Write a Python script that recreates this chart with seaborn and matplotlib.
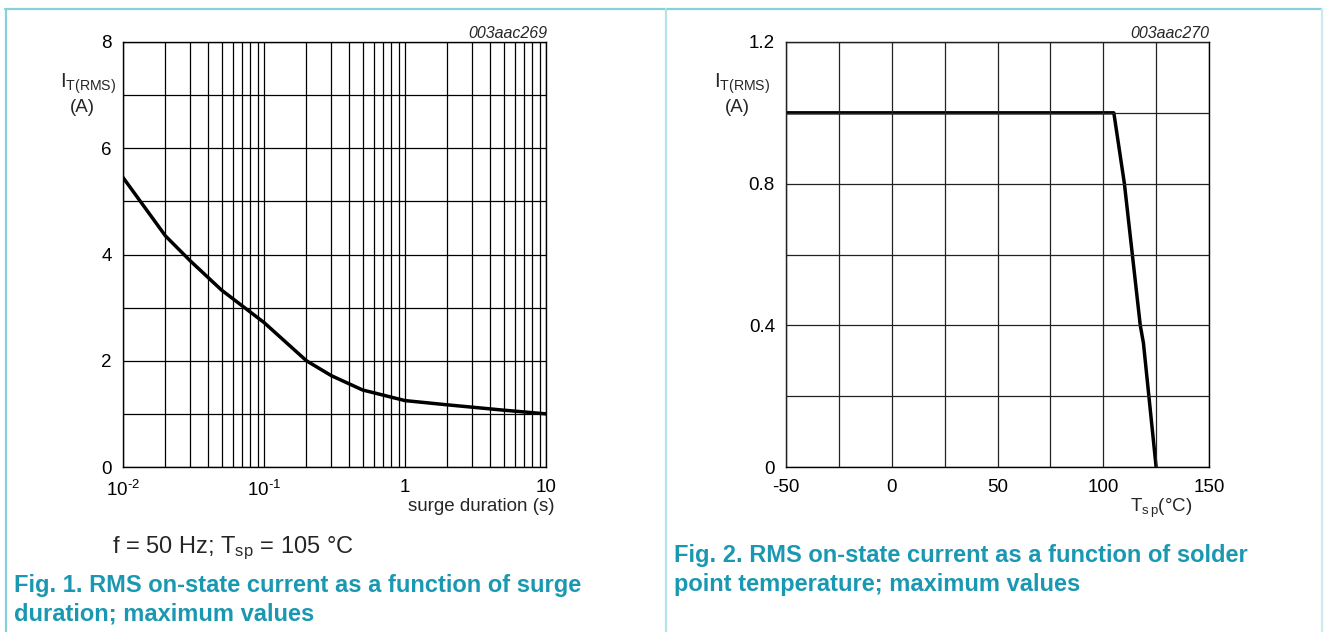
import numpy as np
import pandas as pd
import matplotlib.pyplot as plt
import seaborn as sns
from matplotlib.lines import Line2D
from matplotlib.ticker import LogLocator, NullFormatter, FixedLocator

# data
surge_s = [0.01, 0.02, 0.03, 0.05, 0.1, 0.2, 0.3, 0.5, 1, 2, 5, 10]
surge_it = [5.45, 4.35, 3.88, 3.33, 2.72, 2.0, 1.72, 1.45, 1.25, 1.17, 1.07, 1.0]

tsp_c = [-50, 105, 110, 117.5, 119, 125]
tsp_it = [1.0, 1.0, 0.8, 0.4, 0.35, 0.0]

left_xticks = [0.01, 0.1, 1, 10]
left_xlabels = [r'10$^{\mathregular{‐2}}$', r'10$^{\mathregular{‐1}}$', '1', '10']
left_yticks = [0, 2, 4, 6, 8]
right_xticks = [-50, 0, 50, 100, 150]
right_yticks = [0, 0.4, 0.8, 1.2]

sns.set_style('white')
plt.rcParams['font.family'] = ['Liberation Sans', 'DejaVu Sans']
plt.rcParams['mathtext.fontset'] = 'custom'
plt.rcParams['mathtext.rm'] = 'Liberation Sans'
plt.rcParams['mathtext.it'] = 'Liberation Sans:italic'
plt.rcParams['axes.unicode_minus'] = False

W, H = 1326, 632
fig = plt.figure(figsize=(W / 100, H / 100), dpi=100)
teal = '#1a98b2'
border = '#86d0dc'


def fx(px):
    return px / W


def fy(py):
    return 1 - py / H


# panel borders
fig.add_artist(Line2D([fx(5), fx(1322)], [fy(8.5), fy(8.5)], color=border, lw=1.6))
fig.add_artist(Line2D([fx(5.5), fx(5.5)], [fy(8.5), 0], color=border, lw=1.6))
fig.add_artist(Line2D([fx(665.5), fx(665.5)], [fy(8.5), 0], color='#b5e1e8', lw=1.6))
fig.add_artist(Line2D([fx(1322), fx(1322)], [fy(8.5), 0], color='#cfeaee', lw=1.6))

# ---- Fig. 1 ----
ax1 = fig.add_axes([fx(123), fy(467), fx(546 - 123), (467 - 42) / H])
df1 = pd.DataFrame({'t': surge_s, 'i': surge_it})
sns.lineplot(data=df1, x='t', y='i', ax=ax1, color='black', lw=2.5)
ax1.set_xscale('log')
ax1.set_xlim(0.01, 10)
ax1.set_ylim(0, 8)
ax1.set_xticks(left_xticks)
ax1.set_xticklabels(left_xlabels)
ax1.xaxis.set_minor_locator(LogLocator(base=10, subs=np.arange(2, 10)))
ax1.xaxis.set_minor_formatter(NullFormatter())
ax1.set_yticks(left_yticks)
ax1.yaxis.set_minor_locator(FixedLocator([1, 3, 5, 7]))
ax1.grid(which='both', color='black', lw=0.9)
ax1.set_xlabel('')
ax1.set_ylabel('')

# ---- Fig. 2 ----
ax2 = fig.add_axes([fx(786), fy(467), fx(1209 - 786), (467 - 42) / H])
df2 = pd.DataFrame({'t': tsp_c, 'i': tsp_it})
sns.lineplot(data=df2, x='t', y='i', ax=ax2, color='black', lw=2.5)
ax2.set_xlim(-50, 150)
ax2.set_ylim(0, 1.2)
ax2.set_xticks(right_xticks)
ax2.set_xticklabels([str(v) for v in right_xticks])
ax2.xaxis.set_minor_locator(FixedLocator([-25, 25, 75, 125]))
ax2.set_yticks(right_yticks)
ax2.set_yticklabels(['0', '0.4', '0.8', '1.2'])
ax2.yaxis.set_minor_locator(FixedLocator([0.2, 0.6, 1.0]))
ax2.grid(which='both', color='#222222', lw=0.9)
ax2.set_xlabel('')
ax2.set_ylabel('')

for ax in (ax1, ax2):
    for s in ax.spines.values():
        s.set_color('black')
        s.set_linewidth(1.0)
    ax.tick_params(which='both', length=0, labelsize=13.5, colors='black')
    ax.tick_params(axis='x', pad=9)
    ax.tick_params(axis='y', pad=8)
    ax.set_axisbelow(False)

# axis titles
fig.text(fx(88), fy(88), r'I$_{\mathregular{T(RMS)}}$', fontsize=14.5, ha='center', va='baseline')
fig.text(fx(82), fy(112), '(A)', fontsize=13.5, ha='center', va='baseline')
fig.text(fx(742), fy(88), r'I$_{\mathregular{T(RMS)}}$', fontsize=14.5, ha='center', va='baseline')
fig.text(fx(737), fy(112), '(A)', fontsize=13.5, ha='center', va='baseline')

fig.text(fx(555), fy(511), 'surge duration (s)', fontsize=13.5, ha='right', va='baseline')
fig.text(fx(1192), fy(512), r'T$_{\mathregular{s\,p}}$(°C)', fontsize=13.5, ha='right', va='baseline')

fig.text(fx(547), fy(38), '003aac269', fontsize=11.5, style='italic', ha='right', va='baseline')
fig.text(fx(1209), fy(38), '003aac270', fontsize=11.5, style='italic', ha='right', va='baseline')

fig.text(fx(112), fy(553), r'f = 50 Hz; T$_{\mathregular{sp}}$ = 105 °C', fontsize=17, ha='left', va='baseline')

# captions
cap = dict(fontsize=17, weight='bold', color=teal, ha='left', va='baseline')
fig.text(fx(14), fy(592), 'Fig. 1. RMS on-state current as a function of surge', **cap)
fig.text(fx(14), fy(621), 'duration; maximum values', **cap)
fig.text(fx(674), fy(562), 'Fig. 2. RMS on-state current as a function of solder', **cap)
fig.text(fx(674), fy(591), 'point temperature; maximum values', **cap)

fig.savefig('out.png', dpi=100, facecolor='white')
